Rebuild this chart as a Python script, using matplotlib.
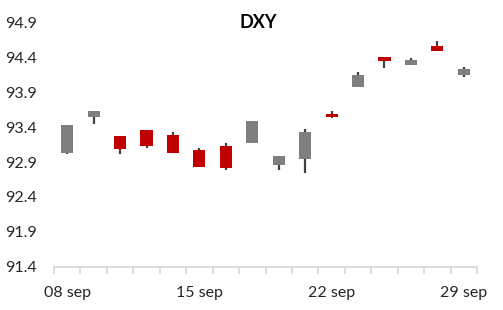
import matplotlib
matplotlib.use("Agg")
import matplotlib.pyplot as plt
import numpy as np

dates = ["08 sep", "09 sep", "10 sep", "11 sep", "14 sep", "15 sep", "16 sep", "17 sep",
         "18 sep", "21 sep", "22 sep", "23 sep", "24 sep", "25 sep", "28 sep", "29 sep"]
opens = [93.03, 93.54, 93.27, 93.36, 93.29, 93.07, 93.13, 93.18,
         92.86, 92.94, 93.59, 93.97, 94.41, 94.29, 94.56, 94.15]
highs = [93.43, 93.63, 93.27, 93.36, 93.33, 93.10, 93.17, 93.49,
         92.99, 93.37, 93.63, 94.19, 94.41, 94.39, 94.64, 94.26]
lows = [93.01, 93.45, 93.02, 93.10, 93.03, 92.83, 92.79, 93.18,
        92.79, 92.74, 93.53, 93.97, 94.25, 94.29, 94.49, 94.12]
closes = [93.43, 93.63, 93.09, 93.13, 93.03, 92.83, 92.81, 93.49,
          92.99, 93.33, 93.55, 94.15, 94.35, 94.36, 94.49, 94.23]
yticks = [91.4, 91.9, 92.4, 92.9, 93.4, 93.9, 94.4, 94.9]
title = "DXY"

plt.rcParams['font.family'] = ['Lato', 'DejaVu Sans']

fig = plt.figure(figsize=(5.03, 3.10), dpi=100)
ax = fig.add_axes([54/503, 1 - 266.7/310, (477-54)/503, (266.7-22.5)/310])

x = np.arange(len(dates))
up_col = "#7f7f7f"
dn_col = "#c00000"
wick_col = "#404040"
w = 0.46
for i in x:
    o, h, l, c = opens[i], highs[i], lows[i], closes[i]
    ax.vlines(i, l, h, color=wick_col, linewidth=1.6, zorder=1)
    col = up_col if c >= o else dn_col
    ax.bar(i, abs(c - o), bottom=min(o, c), width=w, color=col, zorder=2, linewidth=0)

ax.set_xlim(-0.5, len(dates) - 0.5)
ax.set_ylim(yticks[0], yticks[-1])
ax.set_yticks(yticks)
ax.set_yticklabels([f"{v:.1f}" for v in yticks])
lab_idx = [0, 5, 10, 15]
ax.set_xticks(lab_idx)
ax.set_xticklabels([dates[i] for i in lab_idx])
ax.set_xticks(np.arange(-0.5, len(dates), 1.0), minor=True)
ax.tick_params(axis='x', which='major', length=0, pad=14, labelsize=11.5, colors="#262626")
ax.tick_params(axis='x', which='minor', length=5, width=1.3, color="#d9d9d9")
ax.tick_params(axis='y', length=0, pad=12, labelsize=11.5, colors="#262626")
for s in ['top', 'right', 'left']:
    ax.spines[s].set_visible(False)
ax.spines['bottom'].set_color("#d9d9d9")
ax.spines['bottom'].set_linewidth(1.3)

fig.text(258.5/503, 1 - 22.5/310, title, ha='center', va='center', fontsize=13,
         fontweight='bold', color="#000000")

fig.savefig("out.png", dpi=100)
